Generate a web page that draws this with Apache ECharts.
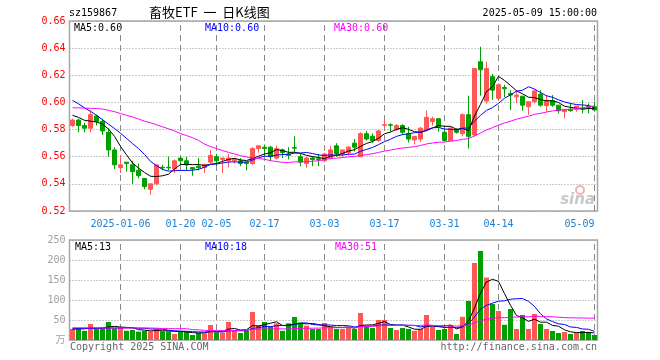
<!DOCTYPE html>
<html><head><meta charset="utf-8">
<script src="https://cdn.jsdelivr.net/npm/echarts@6/dist/echarts.min.js"></script>
<style>html,body{margin:0;padding:0;background:#fff}#c{width:660px;height:360px}</style>
</head><body><div id="c"></div>
<script>
const dates = ['2024-12-24','2024-12-25','2024-12-26','2024-12-27','2024-12-30','2024-12-31','2025-01-02','2025-01-03',
'2025-01-06','2025-01-07','2025-01-08','2025-01-09','2025-01-10','2025-01-13','2025-01-14','2025-01-15','2025-01-16','2025-01-17',
'2025-01-20','2025-01-21','2025-01-22','2025-01-23','2025-01-24','2025-01-27',
'2025-02-05','2025-02-06','2025-02-07','2025-02-10','2025-02-11','2025-02-12','2025-02-13','2025-02-14',
'2025-02-17','2025-02-18','2025-02-19','2025-02-20','2025-02-21','2025-02-24','2025-02-25','2025-02-26','2025-02-27','2025-02-28',
'2025-03-03','2025-03-04','2025-03-05','2025-03-06','2025-03-07','2025-03-10','2025-03-11','2025-03-12','2025-03-13','2025-03-14',
'2025-03-17','2025-03-18','2025-03-19','2025-03-20','2025-03-21','2025-03-24','2025-03-25','2025-03-26','2025-03-27','2025-03-28',
'2025-03-31','2025-04-01','2025-04-02','2025-04-03','2025-04-07','2025-04-08','2025-04-09','2025-04-10','2025-04-11',
'2025-04-14','2025-04-15','2025-04-16','2025-04-17','2025-04-18','2025-04-21','2025-04-22','2025-04-23','2025-04-24','2025-04-25',
'2025-04-28','2025-04-29','2025-04-30','2025-05-06','2025-05-07','2025-05-08','2025-05-09'];

const opens = [.583,.587,.583,.581,.590,.586,.578,.565,.552,.556,
.554,.550,.544,.536,.540,.5522,.5522,.551,.559,.557,
.552,.553,.552,.556,.560,.558,.557,.557,.557,.556,
.555,.566,.567,.567,.559,.565,.562,.5668,.560,.555,
.559,.5585,.557,.559,.568,.562,.563,.570,.560,.577,
.575,.572,.5832,.5836,.580,.583,.577,.5724,.573,.580,
.586,.588,.578,.572,.580,.577,.591,.576,.630,.601,
.619,.603,.611,.6066,.6041,.6046,.5968,.6005,.6061,.5976,
.6012,.598,.5932,.5949,.5949,.5957,.5968,.5968];

const closes = [.587,.583,.581,.591,.586,.579,.565,.554,.554,.555,
.549,.546,.538,.540,.554,.5518,.5518,.557,.557,.554,
.551,.552,.554,.561,.557,.559,.559,.558,.555,.555,
.566,.568,.566,.560,.566,.563,.561,.5663,.556,.559,
.558,.558,.562,.565,.562,.565,.567,.567,.577,.573,
.572,.579,.5836,.5832,.583,.578,.573,.575,.581,.589,
.588,.582,.572,.581,.578,.591,.575,.625,.624,.625,
.609,.613,.610,.6054,.6054,.598,.6005,.6085,.598,.6012,
.598,.5939,.5949,.5939,.5973,.5953,.5961,.5944];

const lows = [.582,.578,.578,.578,.583,.576,.560,.551,.548,.549,
.540,.544,.536,.532,.539,.550,.550,.548,.554,.550,
.546,.550,.548,.555,.553,.548,.552,.555,.553,.550,
.554,.563,.561,.557,.558,.559,.558,.563,.553,.552,
.553,.553,.556,.558,.560,.560,.561,.564,.560,.572,
.570,.571,.581,.5785,.579,.576,.5705,.569,.571,.579,
.583,.5785,.571,.572,.577,.575,.566,.575,.605,.599,
.602,.602,.604,.5944,.5993,.5939,.591,.5993,.5968,.5932,
.5968,.592,.5883,.5932,.5932,.592,.592,.5932];

const highs = [.588,.588,.585,.594,.591,.588,.581,.567,.561,.556,
.557,.555,.544,.540,.554,.554,.560,.558,.560,.560,
.552,.559,.555,.565,.562,.559,.562,.559,.559,.556,
.567,.568,.569,.568,.568,.566,.567,.575,.562,.560,
.560,.562,.563,.568,.570,.565,.568,.573,.578,.579,
.577,.580,.587,.5846,.584,.584,.582,.5754,.582,.594,
.5895,.588,.580,.582,.581,.592,.605,.625,.641,.630,
.621,.614,.613,.609,.609,.6046,.6005,.6095,.609,.6054,
.6054,.598,.5949,.5993,.5973,.6017,.5993,.6005];

const volumes = [27.5,30,23,40,27.5,29,45,29,31.7,23,
25,21,23,21.7,27.5,21.7,21.7,15,21.7,21,
12.5,17.5,16.7,37.5,19,18,45,25,17.5,23,
70,37.5,45,34,41.7,23,41.7,57.5,44,36,
27.5,27.5,42.5,33,27.5,27.5,31.7,27.5,67.5,33,
30,50,50,30,25,30,27.5,23,27.5,62.5,
33,25,27.5,38,15,58,97.5,192.5,222.5,156,
90,72.5,38,77.5,27.5,62.5,27.5,65,40,27.5,
22.5,17.5,20,15,18,22.5,20,12.5];

// moving-average values for the first days (history before the window)
const ma5Head = [.5905,.5890,.5868,.5862];
const ma10Head = [.6015,.5990,.5960,.5935,.5905,.5873,.5840,.5808,.5773];
const ma30Head = [.5960,.5960,.5958,.5957,.5955,.5951,.5942,.5932,.5918,.5905,
.5893,.5878,.5862,.5850,.5836,.5820,.5806,.5790,.5770,.5756,
.5740,.5720,.5693,.5675,.5660,.5646,.5632,.5620,.5608];
const vma5Head = [27,28,28,30];
const vma10Head = [29,29,29,29,29,29.5,30,30,30];
const vma30Head = [30.5,30.5,30.5,30.5,30.5,30,30,30,30,30,30,30,30,30,29.5,
28.5,28.5,28.3,28.3,28.3,26,25.5,24,23.5,23.5,23.5,23.5,24,24.5];

const priceTicks = [0.52,0.54,0.56,0.58,0.60,0.62,0.64,0.66];
const volTicks = [0,50,100,150,200,250];
const labelDates = ['2025-01-06','2025-01-20','2025-02-05','2025-02-17','2025-03-03','2025-03-17','2025-03-31','2025-04-14','2025-05-09'];

function ma(src, n, head) {
  return src.map((v, i) => {
    if (i < n - 1) return head[i];
    let s = 0; for (let j = i - n + 1; j <= i; j++) s += src[j];
    return +(s / n).toFixed(5);
  });
}

const RED = '#ff5656', GREEN = '#00a000';
const MONO = "'DejaVu Sans Mono', monospace";
const labelSet = new Set(labelDates);
const G = {left: 69.5, right: 62.5};

// vertical dashed date grid lines, drawn as line series through the category axis
function vLines(axisIdx, lo, hi) {
  return labelDates.map(d => ({
    type: 'line', xAxisIndex: axisIdx, yAxisIndex: axisIdx, silent: true, z: 1,
    symbol: 'none', animation: false,
    data: [[d, lo], [d, hi]],
    lineStyle: {type: [6, 4], color: '#888888', width: 1}
  }));
}

const chart = echarts.init(document.getElementById('c'));

chart.setOption({
  animation: false,
  grid: [
    {left: G.left, right: G.right, top: 21, height: 190, show: true, borderColor: '#a8a8a8', borderWidth: 1.5},
    {left: G.left, right: G.right, top: 240, height: 100, show: true, borderColor: '#a8a8a8', borderWidth: 1.5}
  ],
  xAxis: [
    {type: 'category', data: dates, gridIndex: 0, boundaryGap: true,
     axisLine: {show: false}, axisTick: {show: false},
     axisLabel: {interval: (i, v) => labelSet.has(v), formatter: v => v === '2025-01-06' ? v : v.slice(5),
       color: '#1a7fd4', fontFamily: MONO, fontSize: 10, margin: 8, alignMaxLabel: 'right'},
     splitLine: {show: false}},
    {type: 'category', data: dates, gridIndex: 1, boundaryGap: true,
     axisLine: {show: false}, axisTick: {show: false}, axisLabel: {show: false},
     splitLine: {show: false}}
  ],
  yAxis: [
    {type: 'value', gridIndex: 0, min: priceTicks[0], max: priceTicks[priceTicks.length - 1], interval: 0.02,
     axisLine: {show: false}, axisTick: {show: false},
     axisLabel: {color: '#ff0000', fontFamily: MONO, fontSize: 10, margin: 4, formatter: v => v.toFixed(2)},
     splitLine: {lineStyle: {type: [1, 2], color: '#999999'}}},
    {type: 'value', gridIndex: 1, min: volTicks[0], max: volTicks[volTicks.length - 1], interval: 50,
     axisLine: {show: false}, axisTick: {show: false},
     axisLabel: {color: '#a0a0a0', fontFamily: "'DejaVu Sans Mono','Noto Sans CJK SC'", fontSize: 10, margin: 4,
       formatter: v => v === 0 ? '万' : String(v)},
     splitLine: {lineStyle: {type: [1, 2], color: '#999999'}}}
  ],
  series: [
    ...vLines(0, priceTicks[0], priceTicks[priceTicks.length - 1]),
    ...vLines(1, volTicks[0], volTicks[volTicks.length - 1]),
    {type: 'candlestick', xAxisIndex: 0, yAxisIndex: 0, barWidth: 3.6, z: 3,
     data: dates.map((d, i) => [opens[i], closes[i], lows[i], highs[i]]),
     itemStyle: {color: RED, color0: GREEN, borderColor: RED, borderColor0: GREEN, borderWidth: 1}},
    {type: 'line', xAxisIndex: 0, yAxisIndex: 0, z: 4, data: ma(closes, 5, ma5Head), symbol: 'none', lineStyle: {color: '#000', width: 1}},
    {type: 'line', xAxisIndex: 0, yAxisIndex: 0, z: 4, data: ma(closes, 10, ma10Head), symbol: 'none', lineStyle: {color: '#0000ff', width: 1}},
    {type: 'line', xAxisIndex: 0, yAxisIndex: 0, z: 4, data: ma(closes, 30, ma30Head), symbol: 'none', lineStyle: {color: '#ff00ff', width: 1}},
    {type: 'bar', xAxisIndex: 1, yAxisIndex: 1, barWidth: 5, z: 3,
     data: volumes.map((v, i) => ({value: v, itemStyle: {color: closes[i] >= opens[i] ? RED : GREEN}}))},
    {type: 'line', xAxisIndex: 1, yAxisIndex: 1, z: 4, data: ma(volumes, 5, vma5Head), symbol: 'none', lineStyle: {color: '#000', width: 1}},
    {type: 'line', xAxisIndex: 1, yAxisIndex: 1, z: 4, data: ma(volumes, 10, vma10Head), symbol: 'none', lineStyle: {color: '#0000ff', width: 1}},
    {type: 'line', xAxisIndex: 1, yAxisIndex: 1, z: 4, data: ma(volumes, 30, vma30Head), symbol: 'none', lineStyle: {color: '#ff00ff', width: 1}}
  ],
  graphic: [
    {type: 'text', x: 69, y: 13, style: {text: 'sz159867', fill: '#000', font: '10px ' + MONO, verticalAlign: 'middle'}},
    {type: 'text', x: 149, y: 12, style: {text: '畜牧ETF  一  日K线图', fill: '#000', font: "13px 'Noto Sans CJK SC'", verticalAlign: 'middle'}},
    {type: 'text', x: 597, y: 13, style: {text: '2025-05-09 15:00:00', fill: '#000', font: '10px ' + MONO, align: 'right', verticalAlign: 'middle'}},
    {type: 'text', x: 74, y: 28, style: {text: 'MA5:0.60', fill: '#000', font: '10px ' + MONO, verticalAlign: 'middle'}},
    {type: 'text', x: 205, y: 28, style: {text: 'MA10:0.60', fill: '#0000ff', font: '10px ' + MONO, verticalAlign: 'middle'}},
    {type: 'text', x: 334, y: 28, style: {text: 'MA30:0.60', fill: '#ff00ff', font: '10px ' + MONO, verticalAlign: 'middle'}},
    {type: 'text', x: 75, y: 247, style: {text: 'MA5:13', fill: '#000', font: '10px ' + MONO, verticalAlign: 'middle'}},
    {type: 'text', x: 205, y: 247, style: {text: 'MA10:18', fill: '#0000ff', font: '10px ' + MONO, verticalAlign: 'middle'}},
    {type: 'text', x: 335, y: 247, style: {text: 'MA30:51', fill: '#ff00ff', font: '10px ' + MONO, verticalAlign: 'middle'}},
    {type: 'text', x: 70, y: 347, style: {text: 'Copyright 2025 SINA.COM', fill: '#666', font: '10px ' + MONO, verticalAlign: 'middle'}},
    {type: 'text', x: 597, y: 347, style: {text: 'http://finance.sina.com.cn', fill: '#666', font: '10px ' + MONO, align: 'right', verticalAlign: 'middle'}},
    {type: 'circle', shape: {cx: 580, cy: 190, r: 4}, style: {fill: 'none', stroke: '#f2b0b0', lineWidth: 2}},
    {type: 'text', x: 595, y: 200, style: {text: 'sina', fill: '#c8c8c8', font: "italic bold 15px 'DejaVu Sans'", align: 'right', verticalAlign: 'middle'}}
  ]
});
</script></body></html>
